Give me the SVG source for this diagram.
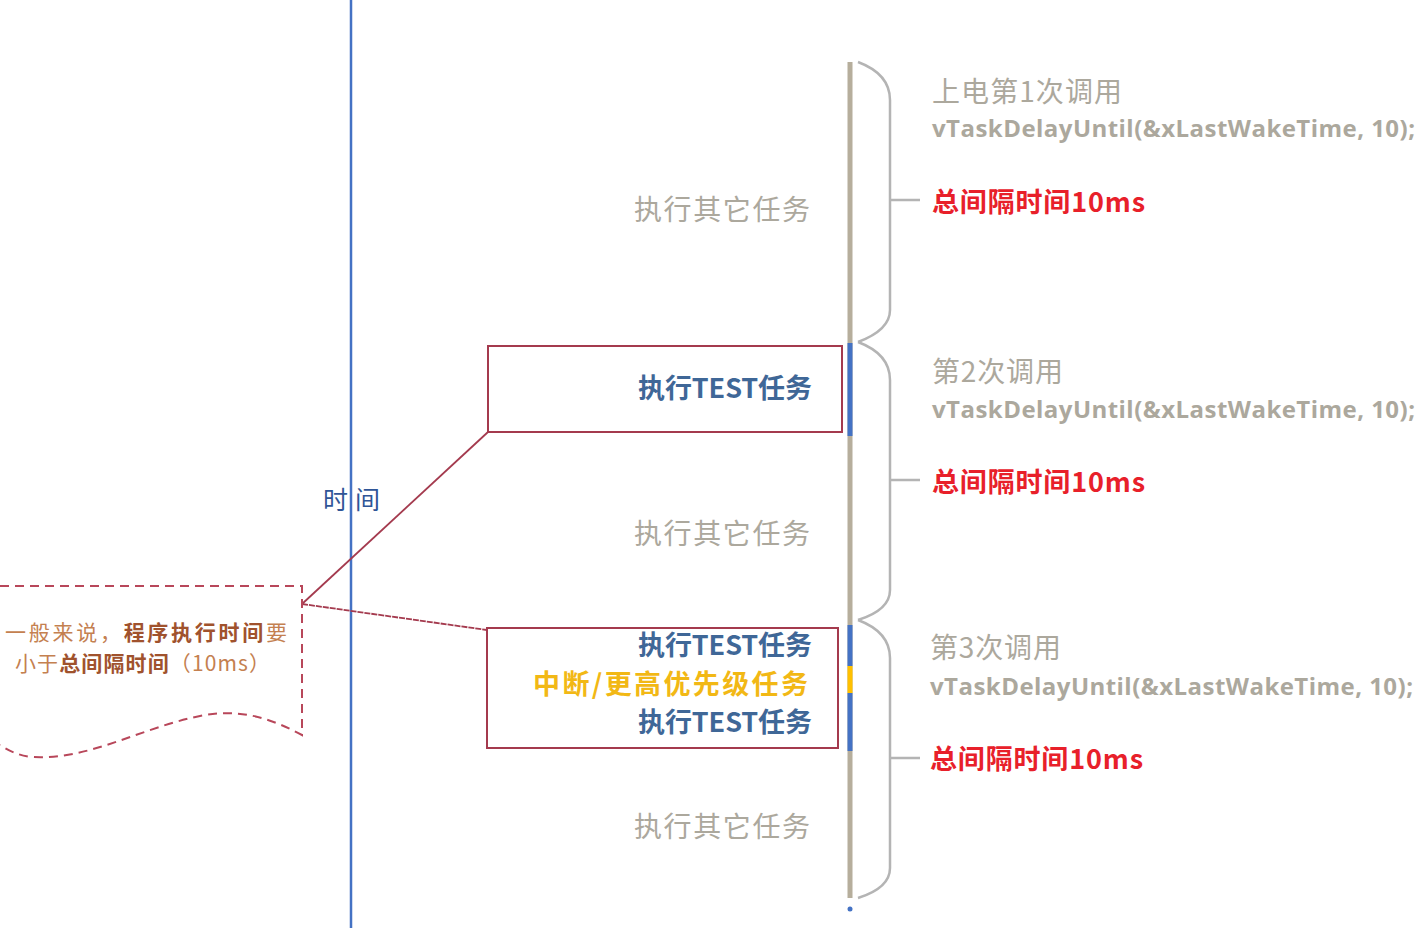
<svg xmlns="http://www.w3.org/2000/svg" width="1421" height="928" viewBox="0 0 1421 928">
<style>
.cj{font-family:"Noto Sans CJK SC","Liberation Sans",sans-serif}
.gray{fill:#aca89d;font-size:28px}
.blue{fill:#3f6797;font-size:27px;font-weight:bold}
.red{fill:#e8202a;font-size:27px;font-weight:bold}
.code{fill:#aca89d;font-size:24px;font-weight:bold;font-family:"Open Sans","Liberation Sans",sans-serif}
.brace{fill:none;stroke:#b4b4b4;stroke-width:2.5}
.box{fill:none;stroke:#a43a4e;stroke-width:2}
</style>
<rect width="1421" height="928" fill="#ffffff"/>
<g id="axis">
<line x1="351" y1="0" x2="351" y2="928" stroke="#4472c4" stroke-width="2.5"/>
<text class="cj" x="323" y="509" font-size="25" fill="#2f5597" textLength="57">时间</text>
</g>
<g id="timeline">
<line x1="850" y1="62" x2="850" y2="898" stroke="#b6ae9c" stroke-width="5"/>
<line x1="850" y1="343" x2="850" y2="436" stroke="#4472c4" stroke-width="5"/>
<line x1="850" y1="625" x2="850" y2="666" stroke="#4472c4" stroke-width="5"/>
<line x1="850" y1="666" x2="850" y2="693" stroke="#ffc000" stroke-width="5"/>
<line x1="850" y1="693" x2="850" y2="751" stroke="#4472c4" stroke-width="5"/>
<circle cx="850" cy="909" r="2.5" fill="#4472c4"/>
</g>
<g id="braces">
<path class="brace" d="M858 62 Q890 74 890 100 L890 310 Q890 330 858 342 M890 200 L920 200"/>
<path class="brace" d="M858 342 Q890 354 890 380 L890 590 Q890 610 858 620 M890 480 L920 480"/>
<path class="brace" d="M858 620 Q890 632 890 658 L890 868 Q890 888 858 898 M890 758 L920 758"/>
</g>
<g id="other1"><text class="cj gray" x="634" y="220" textLength="176">执行其它任务</text></g>
<g id="other2"><text class="cj gray" x="634" y="544" textLength="176">执行其它任务</text></g>
<g id="other3"><text class="cj gray" x="634" y="837" textLength="176">执行其它任务</text></g>
<g id="box1">
<rect class="box" x="488" y="346" width="354" height="86"/>
<text class="cj blue" x="638" y="398" textLength="174">执行TEST任务</text>
</g>
<g id="box2">
<rect class="box" x="487" y="628" width="351" height="120"/>
<text class="cj blue" x="638" y="655" textLength="174">执行TEST任务</text>
<text class="cj" x="533" y="694" font-size="27" font-weight="bold" fill="#f2b815" textLength="275">中断/更高优先级任务</text>
<text class="cj blue" x="638" y="732" textLength="174">执行TEST任务</text>
</g>
<g id="connectors">
<line x1="488" y1="432" x2="302" y2="604" stroke="#a43a4e" stroke-width="1.8"/>
<line x1="302" y1="604" x2="487" y2="630" stroke="#a43a4e" stroke-width="1.8" stroke-dasharray="6 1"/>
</g>
<g id="note">
<path d="M0 586 L302 586 L302 735 C270 718 240 708 200 716 C140 728 90 760 33 757 C18 756 8 750 0 745" fill="none" stroke="#b8475a" stroke-width="2" stroke-dasharray="9 6"/>
<text class="cj" x="5" y="640" font-size="21" fill="#c48050" textLength="282"><tspan>一般来说，</tspan><tspan font-weight="bold" fill="#a0522d">程序执行时间</tspan><tspan>要</tspan></text>
<text class="cj" x="15" y="671" font-size="21" fill="#c48050" textLength="255"><tspan>小于</tspan><tspan font-weight="bold" fill="#a0522d">总间隔时间</tspan><tspan>（10ms）</tspan></text>
</g>
<g id="call1">
<text class="cj gray" x="932" y="102" textLength="190">上电第1次调用</text>
<text class="code" x="932" y="137" textLength="483">vTaskDelayUntil(&amp;xLastWakeTime, 10);</text>
<text class="cj red" x="932" y="212" textLength="213">总间隔时间10ms</text>
</g>
<g id="call2">
<text class="cj gray" x="932" y="382" textLength="131">第2次调用</text>
<text class="code" x="932" y="418" textLength="483">vTaskDelayUntil(&amp;xLastWakeTime, 10);</text>
<text class="cj red" x="932" y="492" textLength="213">总间隔时间10ms</text>
</g>
<g id="call3">
<text class="cj gray" x="930" y="658" textLength="131">第3次调用</text>
<text class="code" x="930" y="695" textLength="483">vTaskDelayUntil(&amp;xLastWakeTime, 10);</text>
<text class="cj red" x="930" y="769" textLength="213">总间隔时间10ms</text>
</g>
</svg>
